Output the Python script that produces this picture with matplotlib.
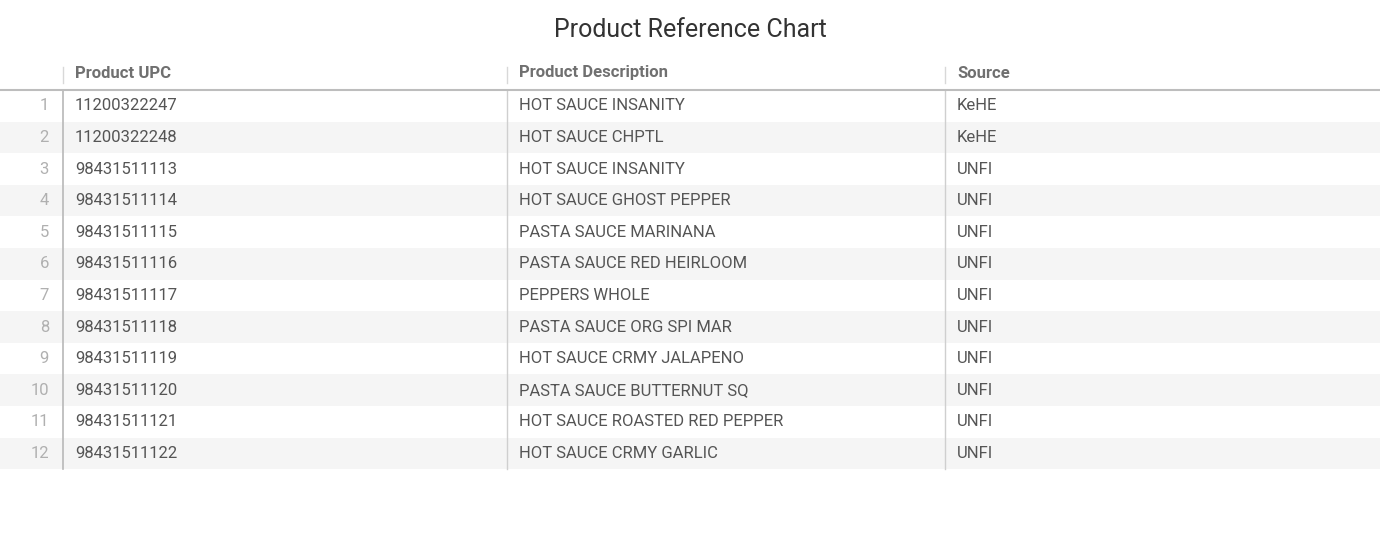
import matplotlib
matplotlib.use("Agg")
import matplotlib.pyplot as plt

plt.rcParams['font.family'] = ['Roboto', 'DejaVu Sans']

title = "Product Reference Chart"
columns = ["Product UPC", "Product Description", "Source"]
upc = ["11200322247", "11200322248", "98431511113", "98431511114", "98431511115",
       "98431511116", "98431511117", "98431511118", "98431511119", "98431511120",
       "98431511121", "98431511122"]
desc = ["HOT SAUCE INSANITY", "HOT SAUCE CHPTL", "HOT SAUCE INSANITY", "HOT SAUCE GHOST PEPPER",
        "PASTA SAUCE MARINANA", "PASTA SAUCE RED HEIRLOOM", "PEPPERS WHOLE",
        "PASTA SAUCE ORG SPI MAR", "HOT SAUCE CRMY JALAPENO", "PASTA SAUCE BUTTERNUT SQ",
        "HOT SAUCE ROASTED RED PEPPER", "HOT SAUCE CRMY GARLIC"]
source = ["KeHE", "KeHE", "UNFI", "UNFI", "UNFI", "UNFI", "UNFI", "UNFI", "UNFI", "UNFI", "UNFI", "UNFI"]

W, H = 1380, 540
fig = plt.figure(figsize=(W/100, H/100), dpi=100)
ax = fig.add_axes([0, 0, 1, 1])
ax.set_xlim(0, W); ax.set_ylim(H, 0); ax.axis('off')

ax.text(690, 30, title, ha='center', va='center', fontsize=18, color='#333333')

col_x = [63, 507, 945]
top, rh = 90, 31.6
n = len(upc)
bottom = top + n * rh

for i in range(n):
    y0 = top + i * rh
    if i % 2 == 1:
        ax.add_patch(plt.Rectangle((0, y0), W, rh, color='#f5f5f5', lw=0, zorder=0))
    yc = y0 + rh / 2
    ax.text(49, yc, str(i + 1), ha='right', va='center', fontsize=12, color='#b0b0b0')
    for cx, val in zip(col_x, (upc[i], desc[i], source[i])):
        ax.text(cx + 12, yc, val, ha='left', va='center', fontsize=12, color='#555555')

for cx, name in zip(col_x, columns):
    ax.text(cx + 12, 73, name, ha='left', va='center', fontsize=12, color='#707070', fontweight='bold')
    ax.plot([cx, cx], [67, 83], color='#d8d8d8', lw=1)
    ax.plot([cx, cx], [top, bottom], color='#cfcfcf' if cx != 63 else '#b8b8b8', lw=1.2 if cx == 63 else 1)

ax.plot([0, W], [top, top], color='#bdbdbd', lw=1.5)

fig.savefig("out.png", dpi=100)
